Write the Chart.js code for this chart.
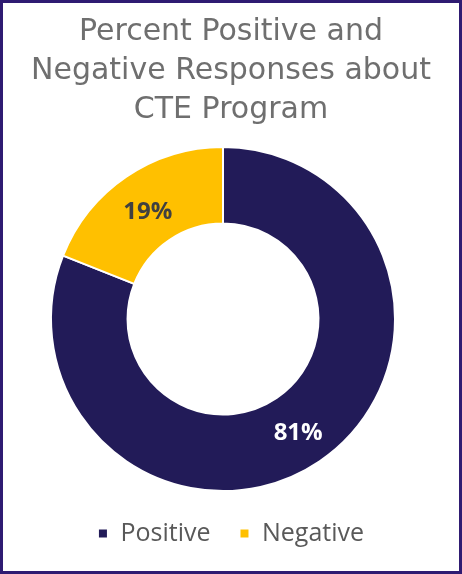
<!DOCTYPE html>
<html>
<head>
<meta charset="utf-8">
<script src="https://cdn.jsdelivr.net/npm/chart.js@4.4.0/dist/chart.umd.min.js"></script>
<style>
  html, body { margin: 0; padding: 0; background: #ffffff; }
  #frame {
    box-sizing: border-box;
    width: 462px;
    height: 574px;
    border: 3px solid #2f1b72;
    background: #ffffff;
  }
  #wrap { position: relative; width: 456px; height: 568px; }
</style>
</head>
<body>
<div id="frame">
  <div id="wrap"><canvas id="myChart"></canvas></div>
</div>
<script>
const titleLines = ['Percent Positive and', 'Negative Responses about', 'CTE Program'];
const categories = ['Positive', 'Negative'];
const percentValues = [81, 19];
const valueLabels = ['81%', '19%'];
const sliceColors = ['#221b58', '#ffc000'];
const labelColors = ['#ffffff', '#404040'];

// draws the percent text in the middle of each slice
const sliceLabels = {
  id: 'sliceLabels',
  afterDatasetsDraw(chart) {
    const ctx = chart.ctx;
    const meta = chart.getDatasetMeta(0);
    ctx.save();
    ctx.font = 'bold 24px "Open Sans"';
    ctx.textAlign = 'center';
    ctx.textBaseline = 'middle';
    meta.data.forEach((arc, i) => {
      const p = arc.getCenterPoint();
      ctx.fillStyle = labelColors[i];
      ctx.fillText(valueLabels[i], p.x, p.y + 4);
    });
    ctx.restore();
  }
};

// nudge the plot area a little to the left, like the original
const shiftArea = {
  id: 'shiftArea',
  afterLayout(chart) {
    chart.chartArea.left -= 8;
    chart.chartArea.right -= 8;
  }
};

const myChart = new Chart('myChart', {
  type: 'doughnut',
  data: {
    labels: categories,
    datasets: [{
      data: percentValues,
      backgroundColor: sliceColors,
      borderColor: '#ffffff',
      borderWidth: 2
    }]
  },
  options: {
    responsive: true,
    maintainAspectRatio: false,
    animation: false,
    cutout: '55.5%',
    layout: { padding: { top: 0, bottom: 15, left: 0, right: 0 } },
    plugins: {
      title: {
        display: true,
        text: titleLines,
        color: '#6f6f6f',
        font: { family: 'DejaVu Sans', size: 30, weight: 'normal', lineHeight: 1.3 },
        padding: { top: 10, bottom: 16 }
      },
      legend: {
        position: 'bottom',
        labels: {
          color: '#595959',
          font: { family: 'Open Sans', size: 25 },
          boxWidth: 10,
          boxHeight: 10,
          padding: 29
        }
      },
      tooltip: { enabled: false }
    }
  },
  plugins: [sliceLabels, shiftArea]
});
</script>
</body>
</html>
